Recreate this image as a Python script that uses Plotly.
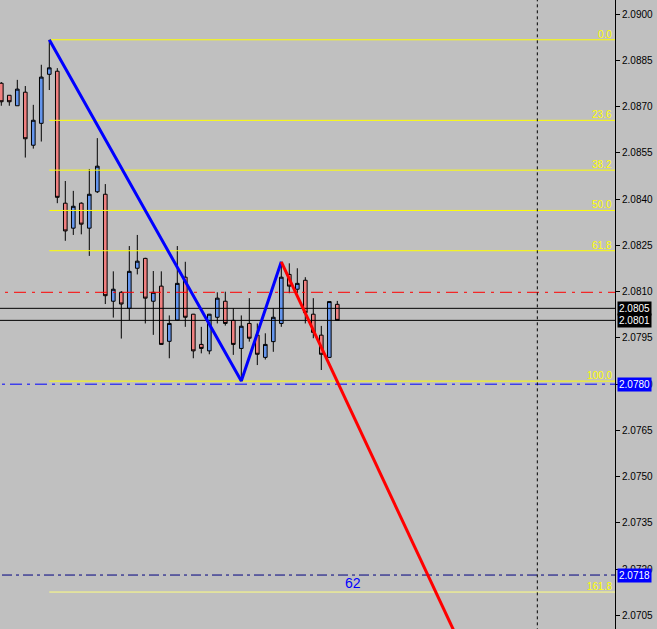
import plotly.graph_objects as go

# ---- data ----
bars = list(range(43))
opens = [2.08776, 2.08737, 2.08703, 2.08747, 2.08575, 2.08646, 2.08805, 2.08815, 2.08387, 2.08306,
         2.08387, 2.08306, 2.08424, 2.08416, 2.08069, 2.08098, 2.08046, 2.08176, 2.08208, 2.08069,
         2.08118, 2.07939, 2.08008, 2.08147, 2.08027, 2.07929, 2.07908, 2.08017, 2.08069, 2.08007,
         2.07916, 2.07997, 2.07959, 2.07887, 2.07938, 2.07997, 2.08156, 2.08108, 2.08137, 2.08027,
         2.07959, 2.07887, 2.08059]
highs = [2.08780, 2.08737, 2.08787, 2.08767, 2.08706, 2.08836, 2.08917, 2.08825, 2.08459, 2.08427,
         2.08390, 2.08498, 2.08598, 2.08449, 2.08166, 2.08102, 2.08248, 2.08284, 2.08210, 2.08167,
         2.08166, 2.08023, 2.08248, 2.08197, 2.08028, 2.07986, 2.08028, 2.08098, 2.08100, 2.08046,
         2.08023, 2.08079, 2.07997, 2.07965, 2.08046, 2.08197, 2.08192, 2.08176, 2.08147, 2.08079,
         2.07989, 2.08068, 2.08070]
lows = [2.08703, 2.08703, 2.08703, 2.08535, 2.08564, 2.08587, 2.08754, 2.08387, 2.08265, 2.08284,
        2.08286, 2.08216, 2.08420, 2.08060, 2.08016, 2.07948, 2.08008, 2.08156, 2.07997, 2.07960,
        2.07928, 2.07884, 2.08006, 2.07986, 2.07884, 2.07900, 2.07897, 2.07997, 2.07990, 2.07895,
        2.07810, 2.07938, 2.07862, 2.07880, 2.07905, 2.07986, 2.08095, 2.08095, 2.07997, 2.07949,
        2.07846, 2.07885, 2.08007]
closes = [2.08716, 2.08716, 2.08757, 2.08596, 2.08656, 2.08796, 2.08826, 2.08406, 2.08297, 2.08377,
          2.08319, 2.08416, 2.08507, 2.08087, 2.08108, 2.08060, 2.08166, 2.08199, 2.08079, 2.08098,
          2.07929, 2.07997, 2.08127, 2.08017, 2.07908, 2.07916, 2.08027, 2.08079, 2.07997, 2.07929,
          2.07988, 2.07949, 2.07897, 2.07929, 2.08017, 2.08147, 2.08118, 2.08127, 2.08032, 2.07968,
          2.07897, 2.08068, 2.08007]

zigzag_x = [6, 30, 35]
zigzag_y = [2.08917, 2.07810, 2.08197]

trend_x = [35, 58]
trend_y = [2.08197, 2.06921]

fib_high = 2.08917
fib_low = 2.07810
fib_start = 6
fib_levels = [0.0, 23.6, 38.2, 50.0, 61.8, 100.0, 161.8]

ask_price = 2.08046
bid_price = 2.08007
red_hline = 2.08098
blue_hline = 2.07800
navy_hline = 2.07181
vline_bar = 67

text_62_x = 44
text_62_y = 2.07155

y_ticks = [2.0705, 2.0720, 2.0735, 2.0750, 2.0765, 2.0780, 2.0795, 2.0810,
           2.0825, 2.0840, 2.0855, 2.0870, 2.0885, 2.0900]

x_range = [-0.1625, 76.71]
y_range = [2.07006, 2.09046]

BG = "#C0C0C0"
FONT = "Liberation Sans"

fig = go.Figure()

# fibonacci levels (background)
for lv in fib_levels:
    p = fib_high - (fib_high - fib_low) * lv / 100.0
    fig.add_trace(go.Scatter(x=[fib_start, x_range[1] + 5], y=[p, p], mode="lines",
                             line=dict(color="#FFFF00" if lv != 161.8 else "#FFFF80", width=1),
                             hoverinfo="skip", showlegend=False))

# candles
fig.add_trace(go.Candlestick(
    x=bars, open=opens, high=highs, low=lows, close=closes,
    increasing=dict(line=dict(color="black", width=1), fillcolor="#6495ED"),
    decreasing=dict(line=dict(color="black", width=1), fillcolor="#F08080"),
    whiskerwidth=0, showlegend=False, hoverinfo="skip"))

# horizontal lines
def hline(p, color, dash, width=1):
    fig.add_trace(go.Scatter(x=[x_range[0] - 5, x_range[1] + 5], y=[p, p], mode="lines",
                             line=dict(color=color, width=width, dash=dash),
                             hoverinfo="skip", showlegend=False))

hline(red_hline, "#FF0000", "12px,6px,3px,6px")
hline(ask_price, "#000000", "solid")
hline(bid_price, "#000000", "solid")
hline(blue_hline, "#0000FF", "12px,5px,3px,5px")
hline(navy_hline, "#000080", "10px,4px,3px,4px")

# vertical dashed line
fig.add_trace(go.Scatter(x=[vline_bar, vline_bar], y=[y_range[0] - 0.01, y_range[1] + 0.01],
                         mode="lines", line=dict(color="black", width=1, dash="3px,3px"),
                         hoverinfo="skip", showlegend=False))

# zigzag + trend line
fig.add_trace(go.Scatter(x=zigzag_x, y=zigzag_y, mode="lines",
                         line=dict(color="#0000FF", width=3), hoverinfo="skip", showlegend=False))
fig.add_trace(go.Scatter(x=trend_x, y=trend_y, mode="lines",
                         line=dict(color="#FF0000", width=3), hoverinfo="skip", showlegend=False))

annotations = []
for lv in fib_levels:
    p = fib_high - (fib_high - fib_low) * lv / 100.0
    annotations.append(dict(x=1, xref="paper", y=p, yref="y", xanchor="right", yanchor="bottom",
                            text=f"{lv:.1f}", showarrow=False, xshift=-1, yshift=-2,
                            font=dict(family=FONT, size=10, color="#FFFF00")))

def price_box(p, bg):
    annotations.append(dict(x=1, xref="paper", y=p, yref="y", xanchor="left", yanchor="middle",
                            text=f"{p:.4f}", showarrow=False, xshift=2, bgcolor=bg, borderpad=1,
                            font=dict(family=FONT, size=10, color="white")))

price_box(ask_price, "black")
price_box(bid_price, "black")
price_box(blue_hline, "#0000FF")
price_box(navy_hline, "#0000FF")

annotations.append(dict(x=text_62_x, y=text_62_y, xref="x", yref="y", text="62", showarrow=False,
                        xanchor="center", yanchor="middle",
                        font=dict(family=FONT, size=14, color="#0000FF")))

fig.update_layout(
    width=657, height=629,
    margin=dict(l=0, r=42, t=0, b=0, autoexpand=False),
    paper_bgcolor=BG, plot_bgcolor=BG,
    boxgap=0.35,
    showlegend=False,
    annotations=annotations,
    xaxis=dict(range=x_range, visible=False, rangeslider=dict(visible=False),
               showgrid=False, zeroline=False, fixedrange=True, automargin=False),
    yaxis=dict(range=y_range, side="right", tickvals=y_ticks,
               ticktext=[f"{t:.4f}" for t in y_ticks],
               ticks="outside", ticklen=4, tickcolor="black", tickwidth=1,
               showline=True, linecolor="black", linewidth=1,
               showgrid=False, zeroline=False, automargin=False,
               tickfont=dict(family=FONT, size=10, color="black")),
)

fig.write_html("out.html",
               config={"displayModeBar": False},
               post_script="document.body.style.margin='0';document.body.style.overflow='hidden';document.body.style.background='#C0C0C0';")
